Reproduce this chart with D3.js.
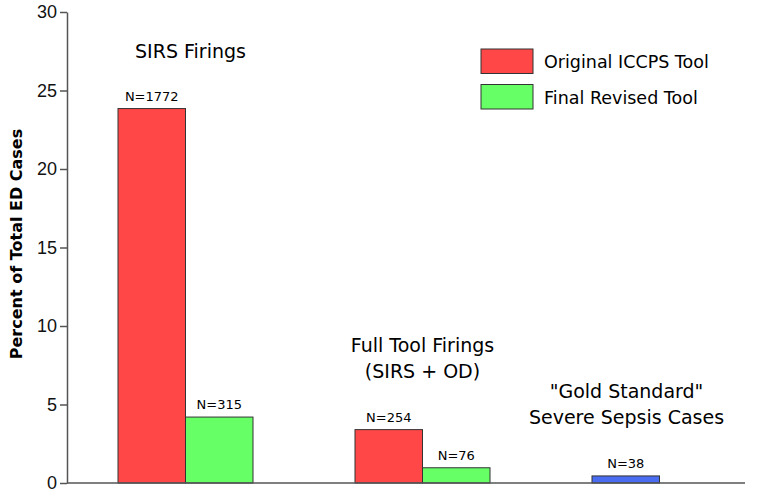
<!DOCTYPE html>
<html>
<head>
<meta charset="utf-8">
<script src="https://cdn.jsdelivr.net/npm/d3@7"></script>
<style>
  body { margin: 0; background: #fff; }
  svg { font-family: "DejaVu Sans", Verdana, sans-serif; }
</style>
</head>
<body>
<div id="chart"></div>
<script>
const groups = ["SIRS Firings", "Full Tool Firings", "Gold Standard"];
const groupLabels = [["SIRS Firings"], ["Full Tool Firings", "(SIRS + OD)"], ["\"Gold Standard\"", "Severe Sepsis Cases"]];
const groupLabelY = [27.05, 8.35, 5.4];
const series = ["Original ICCPS Tool", "Final Revised Tool"];
const colors = ["#ff4747", "#66ff66"];
const origValues = [23.85, 3.4, 0.45];
const finalValues = [4.2, 0.97, null];
const origN = ["N=1772", "N=254", "N=38"];
const finalN = ["N=315", "N=76", null];
const yTicks = [0, 5, 10, 15, 20, 25, 30];

const width = 784, height = 496;
const margin = { top: 12, right: 6, bottom: 13, left: 67 };

const svg = d3.select("#chart").append("svg")
    .attr("width", width)
    .attr("height", height);

const x0 = d3.scaleBand()
    .domain(groups)
    .range([margin.left, width - margin.right])
    .padding(0);

const x1 = d3.scaleBand()
    .domain(series)
    .range([0, 135]);

const y = d3.scaleLinear()
    .domain([0, 30])
    .range([height - margin.bottom, margin.top]);

// bars
const bars = [];
groups.forEach(function(g, i) {
    const off = x0(g) + x0.bandwidth() / 2 - 67.5;
    bars.push({ x: off + x1(series[0]), v: origValues[i], n: origN[i], color: i === 2 ? "#4a6cf0" : colors[0] });
    if (finalValues[i] !== null) {
        bars.push({ x: off + x1(series[1]), v: finalValues[i], n: finalN[i], color: colors[1] });
    }
});

svg.selectAll(".bar")
    .data(bars)
    .enter().append("rect")
    .attr("class", "bar")
    .attr("x", d => d.x)
    .attr("y", d => y(d.v))
    .attr("width", x1.bandwidth())
    .attr("height", d => y(0) - y(d.v))
    .attr("fill", d => d.color)
    .attr("stroke", "#333")
    .attr("stroke-width", 1);

svg.selectAll(".nlabel")
    .data(bars)
    .enter().append("text")
    .attr("class", "nlabel")
    .attr("x", d => d.x + x1.bandwidth() / 2)
    .attr("y", d => y(d.v) - 8)
    .attr("text-anchor", "middle")
    .style("font-size", "13px")
    .text(d => d.n);

// axes
const yAxis = svg.append("g")
    .attr("transform", "translate(" + margin.left + ",0)")
    .call(d3.axisLeft(y).tickValues(yTicks).tickSize(7).tickSizeOuter(0));
yAxis.select(".domain").attr("stroke", "#555").attr("stroke-width", 1.5);
yAxis.selectAll(".tick line").attr("stroke", "#555").attr("stroke-width", 1.5);
yAxis.selectAll("text")
    .style("font-size", "18px")
    .attr("x", -10)
    .attr("fill", "#111");

svg.append("line")
    .attr("x1", margin.left)
    .attr("x2", 745)
    .attr("y1", y(0))
    .attr("y2", y(0))
    .attr("stroke", "#555")
    .attr("stroke-width", 1.5);

svg.append("text")
    .attr("transform", "translate(22,244) rotate(-90)")
    .attr("text-anchor", "middle")
    .style("font-size", "16px")
    .style("font-weight", "bold")
    .text("Percent of Total ED Cases");

// group annotations
const gl = svg.selectAll(".glabel")
    .data(groups)
    .enter().append("text")
    .attr("class", "glabel")
    .attr("x", (g, i) => x0(g) + x0.bandwidth() / 2 + (i === 0 ? 5 : i === 2 ? -33 : 0))
    .attr("y", (g, i) => y(groupLabelY[i]))
    .attr("text-anchor", "middle")
    .style("font-size", "19px");
gl.each(function(g, i) {
    d3.select(this).selectAll("tspan")
        .data(groupLabels[i])
        .enter().append("tspan")
        .attr("x", d3.select(this).attr("x"))
        .attr("dy", (d, j) => j === 0 ? 0 : 26)
        .text(d => d);
});

// legend
const legend = svg.append("g").attr("transform", "translate(481,49)");
series.forEach(function(s, i) {
    legend.append("rect")
        .attr("x", 0)
        .attr("y", i * 35.5)
        .attr("width", 52)
        .attr("height", 24.5)
        .attr("fill", colors[i])
        .attr("stroke", "#333");
    legend.append("text")
        .attr("x", 63)
        .attr("y", i * 36 + 19)
        .style("font-size", "17.5px")
        .text(s);
});
</script>
</body>
</html>
